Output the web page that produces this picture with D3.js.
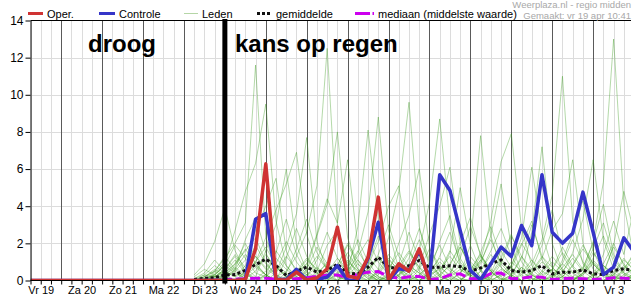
<!DOCTYPE html>
<html>
<head>
<meta charset="utf-8">
<script src="https://cdn.jsdelivr.net/npm/d3@7/dist/d3.min.js"></script>
<style>
body { margin: 0; background: #fff; }
svg { display: block; font-family: "Liberation Sans", Arial, sans-serif; }
</style>
</head>
<body>
<svg width="635" height="300"></svg>
<script>
// stappen van 6 uur, eerste waarde vr 19 apr 06:00
var start = new Date(Date.UTC(2024, 3, 19, 6));
var ledenStart = new Date(Date.UTC(2024, 3, 23, 6));   // leden, gemiddelde en mediaan
var nu = new Date(Date.UTC(2024, 3, 24, 0));

var dagLabels = ["Vr 19", "Za 20", "Zo 21", "Ma 22", "Di 23", "Wo 24", "Do 25", "Vr 26",
    "Za 27", "Zo 28", "Ma 29", "Di 30", "Wo 1", "Do 2", "Vr 3"];
var yTicks = [0, 2, 4, 6, 8, 10, 12, 14];

var oper = [0, 0, 0, 0, 0, 0, 0, 0, 0, 0, 0, 0, 0, 0, 0, 0, 0, 0, 0, 0, 0,
    0.05, 1.7, 6.28, 0.05, 0.02, 0.45, 0.02, 0.15, 0.63, 2.87, 0.25, 0.12, 1.26, 4.49, 0.03, 0.9, 0.5, 1.7, 0];

var controle = [0, 0, 0, 0, 0, 0, 0, 0, 0, 0, 0, 0, 0, 0, 0, 0, 0, 0, 0, 0, 0,
    0.05, 3.3, 3.6, 0.05, 0.05, 0.6, 0.03, 0.05, 0.18, 0.8,
    0, 0, 1.2, 3.14, 0, 0.63, 0.55, 1.6, 0.09, 5.69,
    4.85, 2.7, 0.54, 0.04, 0.9, 1.8, 1.29, 2.96, 1.88, 5.69,
    2.6, 2.01, 2.55, 4.76, 2.6, 0.32, 0.72, 2.3, 1.53];

var gemiddelde = [0.05, 0.12, 0.15, 0.3,
    0.32, 0.55, 0.85, 1.15, 0.8, 0.27, 0.5, 0.72, 0.45, 0.54,
    0.88, 0.4, 0.35, 0.72, 1.26, 0.72, 0.63, 0.8, 1.08, 0.7,
    0.72, 0.8, 0.75, 0.5, 0.68, 0.9, 1.11, 0.54, 0.45, 0.54,
    0.8, 0.36, 0.45, 0.45, 0.57, 0.36, 0.32, 0.54, 0.63, 0.54];

var mediaan = [0, 0, 0.02, 0.05,
    0.08, 0.1, 0.12, 0.12, 0.08, 0.05, 0.1, 0.15, 0.22, 0.28,
    0.3, 0.15, 0.35, 0.45, 0.48, 0.2, 0.12, 0.2, 0.22, 0.05,
    0.1, 0.3, 0.36, 0.1, 0.1, 0.38, 0.4, 0.1, 0.12, 0.2,
    0.18, 0.05, 0.1, 0.12, 0.1, 0.05, 0.08, 0.15, 0.12, 0.1];

var leden = [
    [0,0.2,0.5,1.2,2.0,3.1,11.6,2.4,0.3,0,0.4,1.1,0.6,0,0,0.8,2.2,1.0,0.2,0,0,0.5,1.4,0.6,0,0.3,1.8,0.9,0.2,0,0,0.6,1.9,3.2,1.1,0.3,0,0,0.4,1.5,0.8,0.2,0,0.3],
    [0,0,0.1,0.4,0.9,1.6,2.3,1.0,0.2,0.5,1.3,2.6,5.1,12.5,3.0,0.8,0.2,0,0.3,1.1,0.6,0,0,0.4,2.1,3.5,1.2,0.3,0,0.1,0.9,2.4,1.3,0.4,0,0,0.2,0.8,1.7,0.9,0.3,0,0.5,1.2],
    [0.1,0.3,0.2,0,0.6,2.2,3.4,1.5,0.4,1.8,3.6,7.7,2.1,0.5,0,0.2,0.9,0.4,0,0,0.3,1.2,2.8,1.1,0.2,0,0,0.6,1.4,0.5,0,0.2,0.7,0.3,0,0,1.1,2.5,4.3,1.6,0.4,0,0,0.2],
    [0,0,0.4,1.0,0.5,0.1,0,0.3,1.6,0.8,0.1,0,0.5,1.9,2.7,1.2,0.3,0,0.6,2.3,4.8,9.6,2.9,0.7,0.2,0,0.4,1.3,0.6,0,0,0.8,2.0,1.1,0.3,0.6,1.5,0.7,0.1,0,0.4,1.8,0.9,0.3],
    [0,0.1,0.3,0.8,1.9,1.2,0.4,0.2,0.9,2.1,1.0,0.3,0,0,0.7,1.5,0.6,0.1,0.4,1.2,0.5,0,1.6,4.2,8.7,3.1,0.8,0.2,0,0.3,1.0,0.5,0,0.6,1.9,3.8,1.4,0.4,0,0.2,0.8,0.4,0.1,0],
    [0,0,0,0.2,0.6,1.4,0.8,0.3,0,0.4,1.7,3.3,1.5,0.6,0.2,0,0.1,0.9,2.4,1.0,0.2,0,0.3,0.8,1.9,0.7,0.1,0,0.5,1.6,2.8,1.3,0.4,2.6,7.2,2.0,0.5,0,0.3,1.0,0.4,0,0.6,1.4],
    [0,0.2,0.6,0.3,0,0.5,1.3,0.7,0.2,0,0.3,0.9,0.4,0.1,0.8,2.0,1.1,0.3,0,0.2,0.6,1.5,0.7,0,0,0.4,1.2,2.9,1.4,0.5,0.1,0,0.3,0.9,2.2,4.6,11.0,3.2,0.9,0.2,0,0.3,1.1,0.6],
    [0,0,0.2,0.5,1.1,0.4,0,0.2,0.7,0.3,0,0.6,1.8,0.9,0.2,0,0.4,1.3,0.6,0,0.2,0.8,0.4,0,0.5,1.6,0.8,0.2,0,0.3,1.2,2.5,1.0,0.3,0,0.2,0.7,1.4,0.6,2.1,5.3,13.0,4.1,1.2],
    [0.2,0.6,0.3,0.9,2.7,4.8,6.3,9.5,3.2,0.8,0.2,0,0.3,1.0,0.5,0.1,0,0.4,1.4,3.0,1.3,0.4,0,0.2,0.7,0.3,0,0.5,1.5,2.9,1.2,0.3,0,0,0.4,1.0,0.5,0.1,0,0.3,0.9,2.0,0.8,0.2],
    [0,0,0.5,1.3,0.6,0.2,1.0,2.3,3.8,5.2,6.9,2.5,0.7,0.1,0,0.4,2.9,8.1,3.3,0.9,0.2,0,0.6,1.7,0.8,0.2,0,0.4,1.1,0.5,0,0.3,1.3,0.6,0.1,0,0.2,0.8,1.9,0.9,0.3,0,0.2,0.7],
    [0,0.1,0.2,0.6,1.3,0.5,0,0.3,0.9,0.4,0,0.2,1.1,2.6,1.2,0.4,1.5,3.7,8.8,2.7,0.6,0.1,0,0.5,1.2,0.6,0.3,1.9,7.8,2.4,0.7,0.2,0,0.4,1.0,0.5,0.1,0,0.6,1.7,3.1,1.2,0.4,0],
    [0,0,0,0.3,0.8,1.7,0.9,0.3,0,0.2,0.6,0.3,0,0.4,1.2,0.6,0.1,0,0.5,1.4,0.7,0.2,0,0.3,1.3,2.6,1.0,0.3,1.1,3.2,6.4,7.9,2.8,0.8,0.2,0,0.4,1.5,3.3,6.5,2.2,0.6,0.1,0.3],
    [0.1,0.4,1.1,0.5,0.2,0.8,1.9,0.9,0.3,0,0.2,0.7,2.4,4.1,8.0,2.3,0.6,0.2,0,0.3,0.8,1.6,0.7,2.5,4.0,6.1,2.0,0.5,0,0.2,0.6,0.3,0,0.5,1.3,0.7,0.2,0,0.4,1.1,0.5,0.2,0,0.4],
    [0,0,0.3,0.1,0,0.4,1.0,1.8,0.8,0.2,0,0.5,1.3,0.6,0.2,0.7,1.6,0.7,0.2,0,0.3,0.9,2.2,1.0,0.3,1.5,5.0,1.9,0.5,0,0.3,1.0,0.5,0.1,0,0.6,1.8,0.8,0.2,0,0.4,1.9,4.8,2.6],
    [0,0.2,0.5,0.2,0,0.3,0.7,0.3,0,1.2,2.8,1.3,0.4,0,0.3,1.1,0.5,0.1,0,0.4,2.0,3.5,6.0,1.8,0.5,0.1,0,0.4,1.3,0.6,0.2,0.8,2.3,6.1,2.5,0.7,0.2,0,0.3,0.9,0.4,0.1,0.6,1.5],
    [0,0,0.1,0.3,0.7,0.3,0.1,0.5,1.2,0.6,0.2,0,0.4,0.9,0.4,0,0.2,0.6,1.3,0.6,0.1,0,0.3,0.8,0.3,0,0.4,1.0,0.5,0.1,0,0.3,0.7,0.3,0,0.2,0.5,1.2,0.5,0.1,0,0.3,0.8,0.4],
    [0.3,0.9,2.1,3.9,1.6,0.5,0.1,0,0.4,1.3,0.6,0.2,0,0.3,0.8,1.9,0.9,0.3,0,0.2,0.6,0.3,0,0.4,1.0,0.5,0.1,0,0.5,1.4,0.7,0.2,0,0.4,1.2,2.7,3.6,6.5,2.0,0.6,0.2,0,0.3,0.7],
    [0,0,0.2,0.6,1.4,0.7,0.2,1.6,3.0,6.0,1.9,0.5,0.1,0,0.4,1.0,0.5,0.8,2.1,4.0,5.1,1.7,0.5,0.1,0,0.3,0.8,0.3,0,0.4,1.6,0.7,0.2,0,0.2,0.6,0.3,0,0.4,1.2,2.4,1.0,0.3,0.1],
    [0,0.1,0.3,0.8,0.4,0.1,0.5,1.4,0.7,0.2,0,0.3,0.7,0.3,0,0.5,1.3,2.2,1.0,0.3,0,0.2,0.7,0.3,0.6,1.3,0.6,0.2,0.9,2.4,5.2,1.8,0.5,0.1,0,0.3,0.9,0.4,0.7,2.0,4.1,1.4,0.4,0.2],
    [0,0,0,0.2,0.5,1.1,2.7,4.0,5.5,1.6,0.4,0.9,2.5,4.4,3.1,6.5,1.9,0.5,0.1,0,0.3,0.8,0.4,0,0.2,0.9,1.8,0.8,0.2,0,0.3,0.7,0.3,0,0.5,1.3,0.6,0.2,0,0.3,0.8,0.3,0,0.2],
    [0,0.3,0.8,0.4,0.9,2.0,0.9,0.3,0,0.2,0.5,1.2,0.6,0.2,0,0.4,1.1,0.5,0.1,0.6,1.5,0.7,0.2,0,0.3,0.8,2.0,3.4,1.3,0.4,0.1,0,0.4,1.1,0.5,0.2,0.9,2.2,1.0,0.3,0,0.4,1.2,0.5],
    [0,0,0.2,0.5,0.2,0.4,1.3,0.6,1.5,3.3,1.4,0.4,0,0.2,0.7,0.3,0.1,0.5,1.2,0.5,0.9,2.6,1.1,0.3,0,0.2,0.6,0.3,1.0,2.2,0.9,0.3,1.2,3.0,1.3,0.4,0,0.2,0.6,0.3,1.4,3.2,1.4,3.9]
];

function reeks(values, from) {
    return values.map(function (v, i) { return { t: d3.utcHour.offset(from, i * 6), v: v }; });
}

function draw_chart() {

    var svg = d3.select("svg");
    var left = 30.5, right = 631, top = 20.5, bottom = 280.5;

    var x = d3.scaleUtc()
        .domain([start, d3.utcHour.offset(start, 59 * 6)])
        .range([left, left + 59 * 10.23]);
    var y = d3.scaleLinear().domain([0, 14]).range([bottom, top]);

    var zesUur = d3.utcHour.every(6).range(start, d3.utcHour.offset(start, 59 * 6));
    var middag = dagLabels.map(function (d, i) { return d3.utcHour.offset(start, 6 + 24 * i); });

    svg.append("defs").append("clipPath").attr("id", "plot")
        .append("rect").attr("x", left).attr("y", top - 1)
        .attr("width", right - left).attr("height", bottom - top + 1);

    // raster
    var grid = svg.append("g");
    grid.selectAll(".hgrid")
        .data(yTicks.filter(function (d) { return d > 0 && d < 14; }))
        .enter().append("line")
        .attr("x1", left).attr("x2", right)
        .attr("y1", function (d) { return Math.round(y(d)) + 0.5; })
        .attr("y2", function (d) { return Math.round(y(d)) + 0.5; })
        .attr("stroke", "#dcdcdc");
    grid.selectAll(".vgrid")
        .data(zesUur.filter(function (d) { return d.getUTCHours() !== 0; }))
        .enter().append("line")
        .attr("x1", function (d) { return Math.round(x(d)) + 0.5; })
        .attr("x2", function (d) { return Math.round(x(d)) + 0.5; })
        .attr("y1", top).attr("y2", bottom)
        .attr("stroke", "#dcdcdc");
    grid.selectAll(".dgrid")
        .data(zesUur.filter(function (d) { return d.getUTCHours() === 0; }))
        .enter().append("line")
        .attr("x1", function (d) { return Math.round(x(d)) + 0.5; })
        .attr("x2", function (d) { return Math.round(x(d)) + 0.5; })
        .attr("y1", top).attr("y2", bottom)
        .attr("stroke", "#5a5a5a");

    var line = d3.line()
        .x(function (d) { return x(d.t); })
        .y(function (d) { return y(d.v); });

    var plot = svg.append("g").attr("clip-path", "url(#plot)");

    plot.selectAll(".lid")
        .data(leden)
        .enter().append("path")
        .attr("class", "lid")
        .attr("d", function (d) { return line(reeks(d, ledenStart)); })
        .attr("fill", "none")
        .attr("stroke", "#3a9a1c")
        .attr("stroke-opacity", 0.38)
        .attr("stroke-width", 1);

    plot.append("path")
        .attr("d", line(reeks(mediaan, ledenStart)))
        .attr("fill", "none").attr("stroke", "#cc00ee")
        .attr("stroke-width", 3).attr("stroke-dasharray", "10,4");

    plot.append("path")
        .attr("d", line(reeks(gemiddelde, ledenStart)))
        .attr("fill", "none").attr("stroke", "#111")
        .attr("stroke-width", 3).attr("stroke-dasharray", "3,2.5");

    plot.append("path")
        .attr("d", line(reeks(controle, start)))
        .attr("fill", "none").attr("stroke", "#3535c8")
        .attr("stroke-width", 3.5).attr("stroke-linejoin", "round");

    plot.append("path")
        .attr("d", line(reeks(oper, start)))
        .attr("fill", "none").attr("stroke", "#cf3333")
        .attr("stroke-width", 3.5).attr("stroke-linejoin", "round");

    // assen
    svg.append("line").attr("x1", left).attr("x2", right).attr("y1", top).attr("y2", top).attr("stroke", "#000");

    var yAxis = svg.append("g")
        .attr("transform", "translate(" + left + ",0)")
        .call(d3.axisLeft(y).tickValues(yTicks).tickSize(5).tickPadding(2).tickSizeOuter(0));
    yAxis.selectAll("text").attr("font-size", "12px").attr("font-family", null);
    yAxis.selectAll("path, line").attr("stroke", "#000");

    var xAxis = svg.append("g")
        .attr("transform", "translate(0," + bottom + ")")
        .call(d3.axisBottom(x).tickValues(zesUur).tickSize(4).tickFormat("").tickSizeOuter(0));
    xAxis.select(".domain").attr("d", "M" + left + ",0H" + right);
    xAxis.selectAll("path, line").attr("stroke", "#000");

    var xLabels = svg.append("g")
        .attr("transform", "translate(0," + bottom + ")")
        .call(d3.axisBottom(x).tickValues(middag).tickSize(0).tickPadding(6)
            .tickFormat(function (d, i) { return dagLabels[i]; }));
    xLabels.select(".domain").remove();
    xLabels.selectAll("text").attr("font-size", "11px").attr("font-family", null).attr("fill", "#000");

    // nu
    svg.append("line")
        .attr("x1", x(nu)).attr("x2", x(nu))
        .attr("y1", top - 1.5).attr("y2", bottom + 3)
        .attr("stroke", "#000").attr("stroke-width", 5);

    svg.append("text").attr("x", 88).attr("y", 52)
        .attr("font-size", "24px").attr("font-weight", "bold").text("droog");
    svg.append("text").attr("x", 235).attr("y", 52)
        .attr("font-size", "24px").attr("font-weight", "bold").text("kans op regen");

    // legenda
    var legenda = [
        { x: 28, w: 15, label: "Oper.", stroke: "#cf3333", sw: 3, dash: null },
        { x: 99, w: 16, label: "Controle", stroke: "#3535c8", sw: 3, dash: null },
        { x: 184, w: 14, label: "Leden", stroke: "#b5d6a6", sw: 1, dash: null },
        { x: 257, w: 15, label: "gemiddelde", stroke: "#111", sw: 3, dash: "3,2" },
        { x: 355, w: 19, label: "mediaan (middelste waarde)", stroke: "#cc00ee", sw: 3, dash: "15,2.5,2,10" }
    ];
    var lg = svg.selectAll(".leg").data(legenda).enter().append("g");
    lg.append("line")
        .attr("x1", function (d) { return d.x; })
        .attr("x2", function (d) { return d.x + d.w; })
        .attr("y1", 13.5).attr("y2", 13.5)
        .attr("stroke", function (d) { return d.stroke; })
        .attr("stroke-width", function (d) { return d.sw; })
        .attr("stroke-dasharray", function (d) { return d.dash; });
    lg.append("text")
        .attr("x", function (d) { return d.x + d.w + 4; })
        .attr("y", 17.5)
        .attr("font-size", "11px")
        .text(function (d) { return d.label; });

    svg.append("text").attr("x", 631).attr("y", 8).attr("text-anchor", "end")
        .attr("font-size", "9.5px").attr("fill", "#a8a8a8").text("Weerplaza.nl - regio midden");
    svg.append("text").attr("x", 631).attr("y", 18.5).attr("text-anchor", "end")
        .attr("font-size", "9.5px").attr("fill", "#a8a8a8").text("Gemaakt: vr 19 apr 10:41");
};

draw_chart();
</script>
</body>
</html>
